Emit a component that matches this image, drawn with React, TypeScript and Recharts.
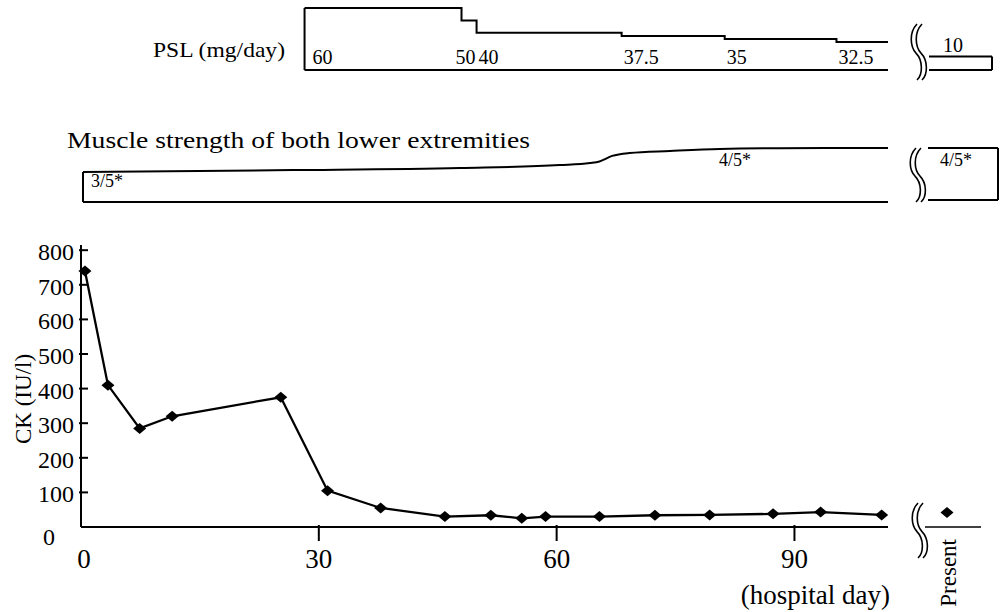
import React from "react";
import { LabelList, Line, LineChart, ReferenceLine, XAxis, YAxis } from "recharts";

// CK (IU/l) by hospital day
const ckDays = [0.5, 3.4, 7.4, 11.5, 25.2, 31.1, 37.8, 45.9, 51.7, 55.6, 58.6, 65.4, 72.4, 79.3, 87.3, 93.3, 101.0];
const ckValues = [740, 410, 285, 320, 375, 105, 55, 30, 34, 25, 30, 30, 34, 35, 38, 43, 35];
const ckTicks = [0, 100, 200, 300, 400, 500, 600, 700, 800];
const dayTicks = [0, 30, 60, 90];

// prednisolone dose steps (mg/day), each value starts at its day
const pslDays = [28.2, 48.0, 49.9, 68.2, 81.2, 95.3, 101.8];
const pslDose = [60, 50, 40, 37.5, 35, 32.5, 32.5];

// muscle strength of both lower extremities (MMT grade)
const muscleDays = [0.25, 26.7, 47.8, 60.4, 64.2, 65.4, 67.0, 69.2, 74.3, 80.6, 88.1, 101.8];
const muscleGrade = [3.0, 3.08, 3.17, 3.29, 3.375, 3.44, 3.67, 3.79, 3.875, 3.96, 3.99, 4.0];
const muscleNotes = ["3/5*", "", "", "", "", "", "", "", "", "4/5*", "", ""];

// "Present" column
const presentLabels = ["Present"];
const presentCk = [42];
const presentPsl = [10];
const presentGrade = [4];
const presentNote = ["4/5*"];

const DAY_MAX = 101.8;
const FONT = "'Liberation Serif', 'Times New Roman', serif";
const INK = "#000";

const ckData = ckDays.map((day, i) => ({ day, ck: ckValues[i] }));
const pslData = pslDays.map((day, i) => ({ day, dose: pslDose[i] }));
const muscleData = muscleDays.map((day, i) => ({ day, grade: muscleGrade[i], note: muscleNotes[i] }));
const presentData = presentLabels.map((label, i) => ({ label, ck: presentCk[i] }));
const presentPslData = [0, 1].map((t) => ({ t, dose: presentPsl[0] }));
const presentGradeData = [0, 1].map((t) => ({ t, grade: presentGrade[0], note: t === 0 ? presentNote[0] : "" }));

function Diamond(props: any) {
  const { cx, cy } = props;
  if (cx == null || cy == null) return null;
  return <path d={`M${cx},${cy - 5.5}L${cx + 6.5},${cy}L${cx},${cy + 5.5}L${cx - 6.5},${cy}Z`} fill={INK} />;
}

function CkTick({ x, y, payload }: any) {
  const v = payload?.value;
  if (v === 0) {
    return (
      <text x={x - 30} y={y + 18} textAnchor="middle" fontSize={24} fontFamily={FONT} fill={INK}>
        0
      </text>
    );
  }
  return (
    <g>
      <line x1={x} x2={x + 9} y1={y} y2={y} stroke={INK} strokeWidth={2} />
      <text x={x - 5} y={y + 10} textAnchor="end" fontSize={24} fontFamily={FONT} fill={INK}>
        {v}
      </text>
    </g>
  );
}

function DayTick({ x, y, payload }: any) {
  const v = payload?.value;
  return (
    <g>
      {v !== 0 && <line x1={x} x2={x} y1={y - 4} y2={y + 12} stroke={INK} strokeWidth={2} />}
      <text x={v === 0 ? x + 3 : x} y={y + 39} textAnchor="middle" fontSize={27} fontFamily={FONT} fill={INK}>
        {v}
      </text>
    </g>
  );
}

function PresentTick({ x, y, payload }: any) {
  return (
    <text
      transform={`translate(${x + 9},${y + 10}) rotate(-90)`}
      textAnchor="end"
      fontSize={23}
      fontFamily={FONT}
      fill={INK}
    >
      {payload?.value}
    </text>
  );
}

function PslLabel(props: any) {
  const { x, value, index } = props;
  if (x == null || index === pslDose.length - 1) return null;
  // the 50 step is only two days wide, its label sits left of the step
  const dx = index === 0 ? 8 : index === 1 ? -6 : 2;
  return (
    <text x={x + dx} y={64} fontSize={20} fontFamily={FONT} fill={INK}>
      {value}
    </text>
  );
}

function NoteLabel(props: any) {
  const { x, y, value, index } = props;
  if (!value || x == null) return null;
  const first = index === 0;
  return (
    <text x={x + (first ? 8 : -1)} y={y + (first ? 15 : 17)} fontSize={18} fontFamily={FONT} fill={INK}>
      {value}
    </text>
  );
}

function TenLabel(props: any) {
  const { x, y, value, index } = props;
  if (index !== 0 || x == null) return null;
  return (
    <text x={x + 14} y={y - 5} fontSize={20} fontFamily={FONT} fill={INK}>
      {value}
    </text>
  );
}

function PresentNote(props: any) {
  const { x, y, value } = props;
  if (!value || x == null) return null;
  return (
    <text x={x + 12} y={y + 18} fontSize={18} fontFamily={FONT} fill={INK}>
      {value}
    </text>
  );
}

// axis-break squiggle "((" drawn as two S strokes
function breakMark(x: number, top: number, bottom: number) {
  const h = bottom - top;
  const stroke = (o: number) =>
    `M${x + 7 + o},${top} C${x - 1 + o},${top + h * 0.15} ${x + o},${top + h * 0.4} ${x + 6 + o},${top + h * 0.52} ` +
    `C${x + 13 + o},${top + h * 0.65} ${x + 13 + o},${top + h * 0.9} ${x + 7 + o},${bottom}`;
  return (
    <g fill="none" stroke={INK} strokeWidth={1.6}>
      <path d={stroke(0)} />
      <path d={stroke(5)} />
    </g>
  );
}

const layer: React.CSSProperties = { position: "absolute", left: 0, top: 0 };

export default function App() {
  return (
    <div style={{ position: "absolute", left: 0, top: 0, width: 1000, height: 612, background: "#fff" }}>
      {/* PSL steps */}
      <div style={layer}>
        <LineChart width={1000} height={80} data={pslData} margin={{ top: 8, right: 112, bottom: 10, left: 81 }}>
          <XAxis dataKey="day" type="number" domain={[0, DAY_MAX]} hide />
          <YAxis domain={[10, 60]} hide />
          <ReferenceLine
            segment={[{ x: pslDays[0], y: 10 }, { x: DAY_MAX, y: 10 }]}
            stroke={INK}
            strokeWidth={2}
            ifOverflow="visible"
          />
          <ReferenceLine
            segment={[{ x: pslDays[0], y: 10 }, { x: pslDays[0], y: pslDose[0] }]}
            stroke={INK}
            strokeWidth={2}
            ifOverflow="visible"
          />
          <Line dataKey="dose" type="stepAfter" stroke={INK} strokeWidth={2} dot={false} isAnimationActive={false}>
            <LabelList dataKey="dose" content={<PslLabel />} />
          </Line>
        </LineChart>
      </div>
      {/* PSL present box */}
      <div style={layer}>
        <LineChart width={1000} height={80} data={presentPslData} margin={{ top: 8, right: 8, bottom: 10, left: 929 }}>
          <XAxis dataKey="t" type="number" domain={[0, 1]} hide />
          <YAxis domain={[0, 46]} hide />
          <ReferenceLine segment={[{ x: 0, y: 0 }, { x: 1, y: 0 }]} stroke={INK} strokeWidth={2} ifOverflow="visible" />
          <ReferenceLine
            segment={[{ x: 1, y: 0 }, { x: 1, y: presentPsl[0] }]}
            stroke={INK}
            strokeWidth={2}
            ifOverflow="visible"
          />
          <Line dataKey="dose" stroke={INK} strokeWidth={2} dot={false} isAnimationActive={false}>
            <LabelList dataKey="dose" content={<TenLabel />} />
          </Line>
        </LineChart>
      </div>
      {/* muscle strength outline */}
      <div style={layer}>
        <LineChart width={1000} height={210} data={muscleData} margin={{ top: 148, right: 112, bottom: 8, left: 81 }}>
          <XAxis dataKey="day" type="number" domain={[0, DAY_MAX]} hide />
          <YAxis domain={[1.75, 4]} hide />
          <ReferenceLine
            segment={[{ x: muscleDays[0], y: 1.75 }, { x: DAY_MAX, y: 1.75 }]}
            stroke={INK}
            strokeWidth={2}
            ifOverflow="visible"
          />
          <ReferenceLine
            segment={[{ x: muscleDays[0], y: 1.75 }, { x: muscleDays[0], y: muscleGrade[0] }]}
            stroke={INK}
            strokeWidth={2}
            ifOverflow="visible"
          />
          <Line dataKey="grade" type="monotone" stroke={INK} strokeWidth={2} dot={false} isAnimationActive={false}>
            <LabelList dataKey="note" content={<NoteLabel />} />
          </Line>
        </LineChart>
      </div>
      {/* muscle strength present box */}
      <div style={layer}>
        <LineChart width={1000} height={210} data={presentGradeData} margin={{ top: 148, right: 2, bottom: 10, left: 928 }}>
          <XAxis dataKey="t" type="number" domain={[0, 1]} hide />
          <YAxis domain={[1.75, 4]} hide />
          <ReferenceLine segment={[{ x: 0, y: 1.75 }, { x: 1, y: 1.75 }]} stroke={INK} strokeWidth={2} ifOverflow="visible" />
          <ReferenceLine segment={[{ x: 1, y: 1.75 }, { x: 1, y: 4 }]} stroke={INK} strokeWidth={2} ifOverflow="visible" />
          <Line dataKey="grade" stroke={INK} strokeWidth={2} dot={false} isAnimationActive={false}>
            <LabelList dataKey="note" content={<PresentNote />} />
          </Line>
        </LineChart>
      </div>
      {/* CK */}
      <div style={layer}>
        <LineChart width={1000} height={612} data={ckData} margin={{ top: 245, right: 112, bottom: 45, left: 0 }}>
          <XAxis
            dataKey="day"
            type="number"
            domain={[0, DAY_MAX]}
            ticks={dayTicks}
            interval={0}
            height={40}
            tickSize={0}
            tickLine={false}
            axisLine={{ stroke: INK, strokeWidth: 2 }}
            tick={<DayTick />}
          />
          <YAxis
            domain={[0, 815]}
            ticks={ckTicks}
            interval={0}
            width={81}
            tickSize={0}
            tickLine={false}
            axisLine={{ stroke: INK, strokeWidth: 2 }}
            tick={<CkTick />}
          />
          <Line
            dataKey="ck"
            type="linear"
            stroke={INK}
            strokeWidth={2.3}
            dot={<Diamond />}
            isAnimationActive={false}
          />
        </LineChart>
      </div>
      {/* CK present */}
      <div style={layer}>
        <LineChart width={1000} height={612} data={presentData} margin={{ top: 245, right: 19, bottom: 45, left: 925 }}>
          <XAxis
            dataKey="label"
            type="category"
            padding={{ left: 0, right: 12 }}
            height={40}
            tickSize={0}
            tickLine={false}
            axisLine={{ stroke: INK, strokeWidth: 1.5 }}
            tick={<PresentTick />}
          />
          <YAxis domain={[0, 815]} hide />
          <Line dataKey="ck" stroke={INK} dot={<Diamond />} isAnimationActive={false} />
        </LineChart>
      </div>
      {/* titles and axis breaks */}
      <svg width={1000} height={612} style={{ ...layer, pointerEvents: "none" }}>
        <g fontFamily={FONT} fill={INK}>
          <text x={153} y={57} fontSize={22} textLength={132} lengthAdjust="spacingAndGlyphs">
            PSL (mg/day)
          </text>
          <text x={67} y={148} fontSize={23} textLength={463} lengthAdjust="spacingAndGlyphs">
            Muscle strength of both lower extremities
          </text>
          <text transform="translate(31,399) rotate(-90)" textAnchor="middle" fontSize={23}>
            CK (IU/l)
          </text>
          <text x={890} y={604} textAnchor="end" fontSize={27}>
            (hospital day)
          </text>
        </g>
        {breakMark(910, 24, 80)}
        {breakMark(909, 148, 202)}
        {breakMark(911, 503, 558)}
      </svg>
    </div>
  );
}
